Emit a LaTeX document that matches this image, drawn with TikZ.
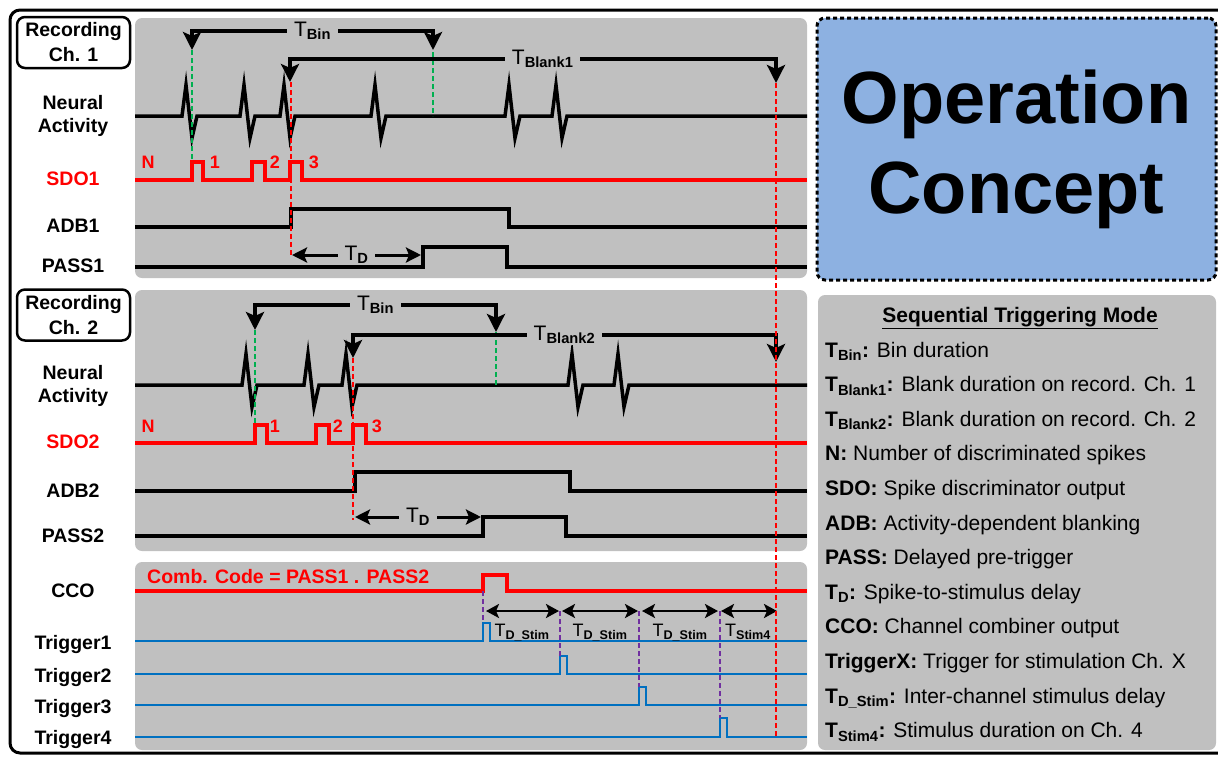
\documentclass[tikz,border=0pt]{standalone}
\usepackage{fontspec}
\setmainfont{Liberation Sans}
\usetikzlibrary{arrows.meta}
\definecolor{grayPanel}{HTML}{C0C0C0}
\definecolor{blueTitle}{HTML}{8DB1E1}
\definecolor{redSignal}{HTML}{FF0000}
\definecolor{greenBin}{HTML}{00B050}
\definecolor{purpleStim}{HTML}{7030A0}
\definecolor{blueTrigger}{HTML}{0070C0}
\newcommand{\Tsub}[1]{T\textsubscript{\bfseries #1}}

\begin{document}
\begin{tikzpicture}[x=1pt,y=-1pt,
    panel/.style={fill=grayPanel,rounded corners=7pt},
    chlabel/.style={font=\bfseries\fontsize{19.5}{23}\selectfont,align=center},
    recbox/.style={chlabel,draw,fill=white,rounded corners=8pt,line width=2.5pt,minimum width=113pt,minimum height=51pt,inner sep=0pt},
    wave/.style={line width=3.5pt},
    trigwave/.style={line width=2.5pt,blueTrigger},
    greendash/.style={greenBin,line width=2.5pt,dash pattern=on 5pt off 3pt},
    reddash/.style={redSignal,line width=2.5pt,dash pattern=on 5pt off 3pt},
    purpledash/.style={purpleStim,line width=2.5pt,dash pattern=on 5pt off 3pt},
    tbracket/.style={line width=3.5pt,{Stealth[length=18pt,width=18pt,inset=4pt]}-{Stealth[length=18pt,width=18pt,inset=4pt]}},
    tdarrow/.style={line width=3pt,{Stealth[length=15pt,width=15pt,inset=3pt]}-{Stealth[length=15pt,width=15pt,inset=3pt]}},
    stimarrow/.style={line width=2.5pt,{Stealth[length=13pt,width=14pt,inset=3pt]}-{Stealth[length=13pt,width=14pt,inset=3pt]}},
    tlabel/.style={fill=grayPanel,inner xsep=7pt,inner ysep=1pt,font=\fontsize{21}{24}\selectfont},
    stimlabel/.style={anchor=base,inner sep=0pt,font=\fontsize{18}{21}\selectfont},
    pulsenum/.style={anchor=base,inner sep=0pt,redSignal,font=\bfseries\fontsize{18}{21}\selectfont},
    legitem/.style={anchor=base west,inner sep=0pt,font=\fontsize{21}{25}\selectfont}]
  \useasboundingbox (0,0) rectangle (1218,756);

  % frame and panels
  \draw[line width=3pt,rounded corners=10pt] (10,10) rectangle (1240,753);
  \fill[panel] (135,18) rectangle (807,278);
  \fill[panel] (135,290) rectangle (807,551);
  \fill[panel] (135,562) rectangle (807,750);
  \fill[panel] (818,295) rectangle (1216,750);
  \node[draw,dash pattern=on 4pt off 3pt,line width=3pt,fill=blueTitle,rounded corners=8pt,
        minimum width=399pt,minimum height=262pt,align=center,
        font=\bfseries\fontsize{74}{90}\selectfont] (title) at (1016.5,149) {Operation\\Concept};

  % recording channel 1
  \node[recbox] (rec1) at (73.5,42.5) {Recording\\[2pt]Ch. 1};
  \node[chlabel] (neural1) at (73,116) {Neural\\Activity};
  \node[chlabel,redSignal] (sdo1) at (73,179) {SDO1};
  \node[chlabel] (adb1) at (73,226) {ADB1};
  \node[chlabel] (pass1) at (73,266) {PASS1};

  \draw[wave] (135,116) foreach \p in {186,244,284,375,509,556}
    {-- (\p-4,116) -- (\p,85) -- (\p+6,138) -- (\p+11,116)} -- (807,116);
  \draw[wave,redSignal] (135,180) foreach \a/\b in {192/203,252/265,290/302}
    {-- (\a,180) -- (\a,162) -- (\b,162) -- (\b,180)} -- (807,180);
  \draw[wave] (135,227) -- (291,227) -- (291,209) -- (509,209) -- (509,227) -- (807,227);
  \draw[wave] (135,267) -- (423,267) -- (423,247) -- (507,247) -- (507,267) -- (807,267);

  \node[pulsenum] (n1) at (148,168) {N};
  \node[pulsenum] (p11) at (215,168) {1};
  \node[pulsenum] (p12) at (275,168) {2};
  \node[pulsenum] (p13) at (314,168) {3};

  \draw[greendash] (192,50) -- (192,162);
  \draw[greendash] (433,52) -- (433,116);
  \draw[reddash] (291,82) -- (291,257);

  \draw[tbracket] (192,50) -- (192,31) -- node[tlabel] (tbin1) {\Tsub{Bin}} (433,31) -- (433,50);
  \draw[tbracket] (290,82) -- (290,59) -- node[tlabel,pos=0.52] (tblank1) {\Tsub{Blank1}} (776,59) -- (776,83);
  \draw[tdarrow] (292,255) -- node[tlabel] (td1) {\Tsub{D}} (421,255);

  % recording channel 2
  \node[recbox] (rec2) at (73.5,315) {Recording\\[2pt]Ch. 2};
  \node[chlabel] (neural2) at (73,386) {Neural\\Activity};
  \node[chlabel,redSignal] (sdo2) at (73,442) {SDO2};
  \node[chlabel] (adb2) at (73,491) {ADB2};
  \node[chlabel] (pass2) at (73,536) {PASS2};

  \draw[wave] (135,385) foreach \p in {246,308,346,572,618}
    {-- (\p-4,385) -- (\p,354) -- (\p+6,407) -- (\p+11,385)} -- (807,385);
  \draw[wave,redSignal] (135,443) foreach \a/\b in {255/267,316/329,353/366}
    {-- (\a,443) -- (\a,425) -- (\b,425) -- (\b,443)} -- (807,443);
  \draw[wave] (135,491) -- (355,491) -- (355,472) -- (570,472) -- (570,491) -- (807,491);
  \draw[wave] (135,536) -- (483,536) -- (483,517) -- (566,517) -- (566,536) -- (807,536);

  \node[pulsenum] (n2) at (148,432) {N};
  \node[pulsenum] (p21) at (275,432) {1};
  \node[pulsenum] (p22) at (338,432) {2};
  \node[pulsenum] (p23) at (377,432) {3};

  \draw[greendash] (255,330) -- (255,425);
  \draw[greendash] (496,332) -- (496,385);
  \draw[reddash] (353,358) -- (353,520);

  \draw[tbracket] (255,330) -- (255,305) -- node[tlabel] (tbin2) {\Tsub{Bin}} (496,305) -- (496,332);
  \draw[tbracket] (353,358) -- (353,335) -- node[tlabel] (tblank2) {\Tsub{Blank2}} (776,335) -- (776,362);
  \draw[tdarrow] (355,517) -- node[tlabel] (td2) {\Tsub{D}} (481,517);

  % combiner and triggers
  \node[chlabel] (cco) at (73,591) {CCO};
  \foreach \y [count=\i] in {649,682,713,744}
    \node[chlabel,anchor=base] (trig\i) at (73,\y) {Trigger\i};
  \node[chlabel,anchor=base west,inner sep=0pt,redSignal] (combo) at (147,583) {Comb. Code = PASS1 . PASS2};

  \draw[wave,redSignal] (135,591) -- (483,591) -- (483,575) -- (507,575) -- (507,591) -- (807,591);
  \foreach \y/\t/\a in {641/623/483,674/656/560,705/687/639,737/718/720}
    \draw[trigwave] (135,\y) -- (\a,\y) -- (\a,\t) -- (\a+7,\t) -- (\a+7,\y) -- (807,\y);

  \draw[purpledash] (483,591) -- (483,623);
  \draw[purpledash] (560,611) -- (560,656);
  \draw[purpledash] (639,611) -- (639,687);
  \draw[purpledash] (720,611) -- (720,718);

  \draw[stimarrow] (486,611) -- (559,611);
  \draw[stimarrow] (562,611) -- (638,611);
  \draw[stimarrow] (642,611) -- (718,611);
  \draw[stimarrow] (721,611) -- (777,611);
  \node[stimlabel] (ts1) at (522,636) {\Tsub{D\_Stim}};
  \node[stimlabel] (ts2) at (600,636) {\Tsub{D\_Stim}};
  \node[stimlabel] (ts3) at (680,636) {\Tsub{D\_Stim}};
  \node[stimlabel] (ts4) at (748,636) {\Tsub{Stim4}};

  % end of blanking
  \draw[reddash] (776,83) -- (776,737);

  % legend
  \node[anchor=base,inner sep=0pt,font=\bfseries\fontsize{21}{25}\selectfont] (legtitle) at (1020,322)
    {\underline{Sequential Triggering Mode}};
  \foreach \txt [count=\i] in {
      {\textbf{\Tsub{Bin}:} Bin duration},
      {\textbf{\Tsub{Blank1}:} Blank duration on record. Ch. 1},
      {\textbf{\Tsub{Blank2}:} Blank duration on record. Ch. 2},
      {\textbf{N:} Number of discriminated spikes},
      {\textbf{SDO:} Spike discriminator output},
      {\textbf{ADB:} Activity-dependent blanking},
      {\textbf{PASS:} Delayed pre-trigger},
      {\textbf{\Tsub{D}:} Spike-to-stimulus delay},
      {\textbf{CCO:} Channel combiner output},
      {\textbf{TriggerX:} Trigger for stimulation Ch. X},
      {\textbf{\Tsub{D\_Stim}:} Inter-channel stimulus delay},
      {\textbf{\Tsub{Stim4}:} Stimulus duration on Ch. 4}}
    \node[legitem] (leg\i) at (825,{322.4+34.6*\i}) {\txt};
\end{tikzpicture}
\end{document}
